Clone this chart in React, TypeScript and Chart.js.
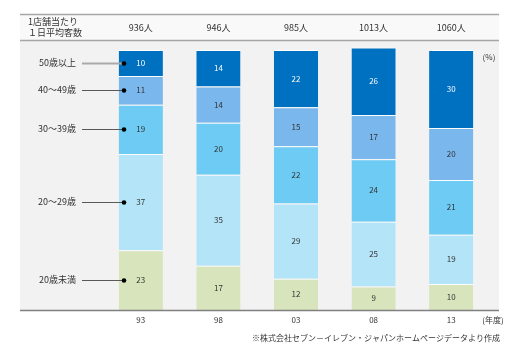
import React, { useEffect, useRef } from "react";
import { Chart, registerables } from "chart.js";

Chart.register(...registerables);

const years = ["93", "98", "03", "08", "13"];
const customersPerDay = ["936人", "946人", "985人", "1013人", "1060人"];
const ageGroups = ["20歳未満", "20～29歳", "30～39歳", "40～49歳", "50歳以上"];
const under20 = [23, 17, 12, 9, 10];
const age20s = [37, 35, 29, 25, 19];
const age30s = [19, 20, 22, 24, 21];
const age40s = [11, 14, 15, 17, 20];
const age50plus = [10, 14, 22, 26, 30];
const headerLabel = ["1店舗当たり", "１日平均客数"];
const unitLabel = "(%)";
const yearUnit = "(年度)";
const footnote = "※株式会社セブン－イレブン・ジャパンホームページデータより作成";

const colors = ["#d8e4bc", "#b4e4f8", "#6dcbf4", "#7ab7ec", "#0070c0"];
const labelColors = ["#333333", "#333333", "#333333", "#333333", "#ffffff"];
const FONT = '"Noto Sans CJK JP", "Noto Sans", sans-serif';

const decorPlugin = {
  id: "decor",
  beforeDraw(chart: any) {
    const { ctx, chartArea } = chart;
    ctx.save();
    ctx.fillStyle = "#ffffff";
    ctx.fillRect(0, 0, chart.width, chart.height);
    ctx.fillStyle = "#f9f9f9";
    ctx.fillRect(20, 14, 479, 26);
    ctx.fillStyle = "#f2f2f2";
    ctx.fillRect(20, 40, 479, chartArea.bottom - 40);
    ctx.strokeStyle = "#a6a6a6";
    ctx.lineWidth = 1.5;
    ctx.beginPath();
    ctx.moveTo(20, 14.5);
    ctx.lineTo(499, 14.5);
    ctx.moveTo(20, 40.5);
    ctx.lineTo(499, 40.5);
    ctx.stroke();
    ctx.restore();
  },
  afterDatasetsDraw(chart: any) {
    const { ctx, chartArea, scales } = chart;
    const xs = scales.x;
    ctx.save();
    // axis line
    ctx.strokeStyle = "#808080";
    ctx.lineWidth = 1.5;
    ctx.beginPath();
    ctx.moveTo(20, chartArea.bottom + 0.5);
    ctx.lineTo(499, chartArea.bottom + 0.5);
    ctx.stroke();

    // data labels
    ctx.font = `8px ${FONT}`;
    ctx.textAlign = "center";
    ctx.textBaseline = "middle";
    chart.data.datasets.forEach((ds: any, di: number) => {
      const meta = chart.getDatasetMeta(di);
      meta.data.forEach((bar: any, i: number) => {
        const cy = (bar.y + bar.base) / 2;
        ctx.fillStyle = labelColors[di];
        ctx.fillText(String(ds.data[i]), bar.x, cy);
      });
    });

    // left labels with leader lines to first bar
    ctx.font = `9px ${FONT}`;
    ctx.textAlign = "right";
    ageGroups.forEach((name, di) => {
      const bar: any = chart.getDatasetMeta(di).data[0];
      const cy = Math.round((bar.y + bar.base) / 2);
      ctx.fillStyle = "#333333";
      ctx.fillText(name, 76, cy);
      ctx.strokeStyle = di === 4 ? "#aaaaaa" : "#595959";
      ctx.lineWidth = di === 4 ? 2 : 1;
      ctx.beginPath();
      ctx.moveTo(82, cy + 0.5);
      ctx.lineTo(124, cy + 0.5);
      ctx.stroke();
      ctx.fillStyle = "#000000";
      ctx.beginPath();
      ctx.arc(124, cy + 0.5, 2.3, 0, Math.PI * 2);
      ctx.fill();
    });

    // header
    ctx.fillStyle = "#333333";
    ctx.textAlign = "left";
    ctx.fillText(headerLabel[0], 28, 22);
    ctx.fillText(headerLabel[1], 28, 33);
    ctx.textAlign = "center";
    customersPerDay.forEach((t, i) => {
      ctx.fillText(t, xs.getPixelForValue(i), 28);
    });

    // x labels
    ctx.font = `8px ${FONT}`;
    years.forEach((t, i) => {
      ctx.fillText(t, xs.getPixelForValue(i), chartArea.bottom + 10);
    });
    ctx.fillText(yearUnit, 493, chartArea.bottom + 10);
    ctx.fillText(unitLabel, 489, 57);

    // footnote
    ctx.textAlign = "right";
    ctx.fillText(footnote, 500, 338);
    ctx.restore();
  },
};

export default function App() {
  const ref = useRef<HTMLCanvasElement>(null);
  useEffect(() => {
    if (!ref.current) return;
    const series = [under20, age20s, age30s, age40s, age50plus];
    const chart = new Chart(ref.current, {
      type: "bar",
      data: {
        labels: years,
        datasets: series.map((d, i) => ({
          label: ageGroups[i],
          data: d,
          backgroundColor: colors[i],
          borderColor: "rgba(255,255,255,0.8)",
          borderWidth: { top: 1, bottom: 0, left: 0, right: 0 },
          borderSkipped: false,
          categoryPercentage: 1,
          barPercentage: 0.57,
        })),
      },
      options: {
        responsive: false,
        animation: false,
        layout: { padding: { left: 102, right: 30, top: 41, bottom: 40 } },
        plugins: { legend: { display: false }, tooltip: { enabled: false } },
        scales: {
          x: { stacked: true, display: false },
          y: { stacked: true, display: false, min: 0, max: 103.5 },
        },
      },
      plugins: [decorPlugin],
    });
    return () => chart.destroy();
  }, []);
  return (
    <div style={{ position: "fixed", left: 0, top: 0, width: 520, height: 350 }}>
      <canvas ref={ref} width={520} height={350} />
    </div>
  );
}
